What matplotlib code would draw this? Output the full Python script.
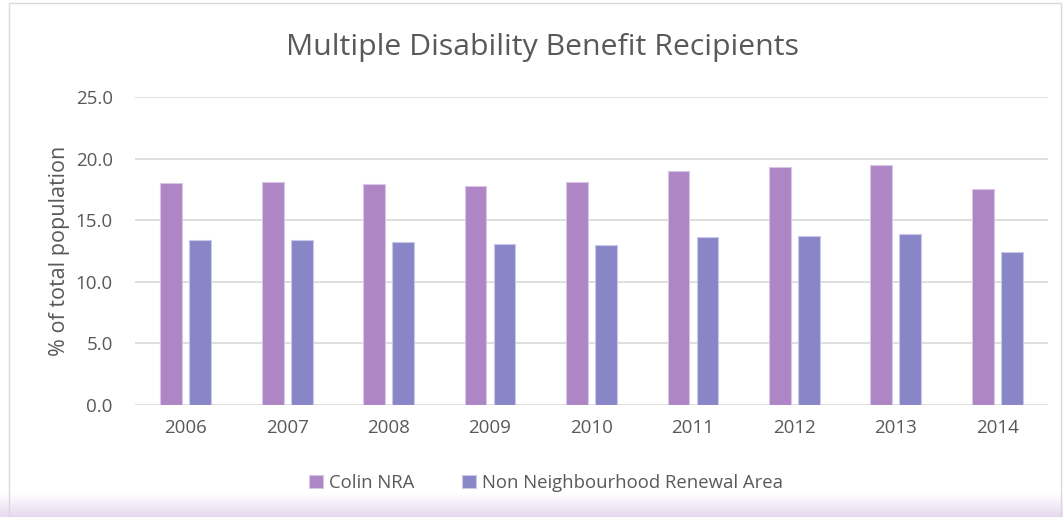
import numpy as np
import matplotlib.pyplot as plt
from matplotlib.patches import Rectangle

years = ['2006', '2007', '2008', '2009', '2010', '2011', '2012', '2013', '2014']
colin_nra = [18.0, 18.1, 17.9, 17.8, 18.1, 19.0, 19.3, 19.5, 17.5]
non_nra = [13.4, 13.4, 13.2, 13.1, 13.0, 13.6, 13.7, 13.9, 12.4]
series_names = ['Colin NRA', 'Non Neighbourhood Renewal Area']

plt.rcParams['font.family'] = ['Open Sans', 'DejaVu Sans']
txt = '#595959'

fig = plt.figure(figsize=(10.63, 5.17), dpi=100)

# soft purple shade at the bottom + border of the chart area
bg = fig.add_axes([0, 0, 1, 1], zorder=-5)
bg.set_xlim(0, 1)
bg.set_ylim(0, 1)
bg.axis('off')
grad = np.linspace(0, 1, 50).reshape(-1, 1)
bg.imshow(grad, extent=[0.0, 1, 0.0, 0.045], aspect='auto',
          cmap=plt.matplotlib.colors.LinearSegmentedColormap.from_list('g', ['#e6d9f0', '#ffffff']),
          origin='lower')
bg.add_patch(Rectangle((0.008, 0.0), 0.99, 0.995, fill=False, edgecolor='#d9d9d9', lw=1))

ax = fig.add_axes([135 / 1063, 1 - 405 / 517, 913 / 1063, 308 / 517])
x = np.arange(len(years))
w = 0.215
ax.bar(x - 0.143, colin_nra, w, color='#ae85c5', edgecolor='#d9c6e6', lw=0.8, label=series_names[0], zorder=3)
ax.bar(x + 0.143, non_nra, w, color='#8886c6', edgecolor='#c9c8e6', lw=0.8, label=series_names[1], zorder=3)

ax.set_xlim(-0.5, len(years) - 0.5)
ax.set_ylim(0, 25)
ax.set_yticks(np.arange(0, 25.1, 5))
ax.set_yticklabels(['%.1f' % v for v in np.arange(0, 25.1, 5)])
ax.set_xticks(x)
ax.set_xticklabels(years)
ax.tick_params(axis='both', length=0, labelsize=13.5, colors=txt)
ax.tick_params(axis='x', pad=10)
ax.tick_params(axis='y', pad=16)
ax.grid(axis='y', color='#d9d9d9', lw=1.2, zorder=0)
for s in ax.spines.values():
    s.set_visible(False)
ax.set_ylabel('% of total population', fontsize=15.5, color=txt, labelpad=4)

fig.text(542 / 1063, 1 - 47 / 517, 'Multiple Disability Benefit Recipients',
         ha='center', va='center', fontsize=21.8, color=txt)

fig.legend(loc='center', bbox_to_anchor=(546 / 1063, 1 - 483 / 517), ncol=2, frameon=False,
           fontsize=13.3, labelcolor=txt, handlelength=0.75, handleheight=0.75,
           handletextpad=0.3, columnspacing=2.6)

fig.savefig('out.png', dpi=100)
